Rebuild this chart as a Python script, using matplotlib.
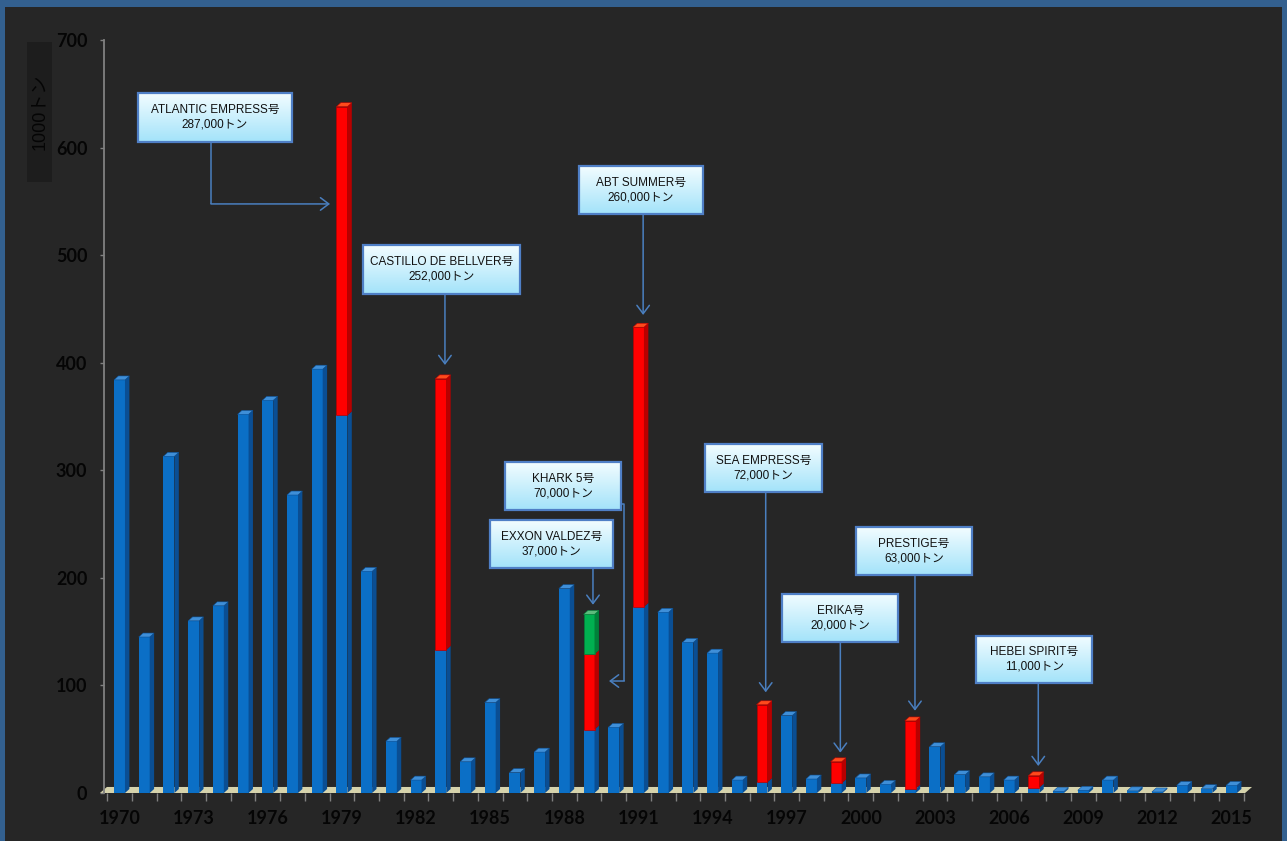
import numpy as np
import matplotlib
matplotlib.use("Agg")
import matplotlib.pyplot as plt
from matplotlib.patches import Polygon, Rectangle

# ---- data (thousand tonnes spilled per year) ----
years = list(range(1970, 2016))
other_spills = [384, 145, 313, 160, 174, 352, 365, 277, 394, 351,
                206, 48, 12, 133, 29, 84, 19, 38, 190, 59,
                61, 173, 168, 140, 130, 12, 10, 72, 13, 9,
                14, 8, 4, 43, 17, 15, 12, 5, 1.5, 2.5,
                12, 2, 1, 7, 4, 7]
# major incidents stacked on top of the yearly base
major_spills = {1979: 287, 1983: 252, 1989: 70, 1991: 260,
                1996: 72, 1999: 20, 2002: 63, 2007: 11}
second_spills = {1989: 37}

x_labels = [str(y) for y in range(1970, 2016, 3)]
y_ticks = list(range(0, 701, 100))
y_title = "1000トン"

incident_names = ["ATLANTIC EMPRESS号", "CASTILLO DE BELLVER号", "ABT SUMMER号",
                  "KHARK 5号", "EXXON VALDEZ号", "SEA EMPRESS号", "ERIKA号",
                  "PRESTIGE号", "HEBEI SPIRIT号"]
incident_tonnes = ["287,000トン", "252,000トン", "260,000トン", "70,000トン",
                   "37,000トン", "72,000トン", "20,000トン", "63,000トン",
                   "11,000トン"]

# ---- styling ----
FRAME = "#33608f"
BG = "#262626"
BLUE = ("#0b6fc6", "#0a4e93", "#3f8fd8")
RED = ("#ff0000", "#b80000", "#ff4a1c")
GREEN = ("#00b050", "#00813a", "#5dbb7d")
FLOOR = "#d6d3ac"
AXIS_GRAY = "#808080"
ARROW = "#4a7fbf"
TEXT_DARK = "#050505"
JP = ["Liberation Sans", "Noto Sans CJK JP"]

W = 0.445        # front face width (years)
DX, DY = 0.178, 3.7  # 3D depth offset

fig = plt.figure(figsize=(12.87, 8.41), dpi=100, facecolor=FRAME)
fig.patches.append(Rectangle((5 / 1287, 0), 1277 / 1287, 834 / 841,
                             transform=fig.transFigure, facecolor=BG,
                             edgecolor="none", zorder=-10))
fig.patches.append(Rectangle((27 / 1287, 1 - 182 / 841), 25 / 1287, 140 / 841,
                             transform=fig.transFigure, facecolor="#1d1d1d",
                             edgecolor="none", zorder=-5))

ax = fig.add_axes([104 / 1287, 1 - 793 / 841, 1151 / 1287, 753 / 841])
ax.set_zorder(5)
ax.set_facecolor("none")
ax.set_xlim(1969.373, 2015.95)
ax.set_ylim(0, 700)

# floor plate
floor = Polygon([(1969.21, 0), (2015.55, 0), (2015.83, 5.6), (1969.49, 5.6)],
                closed=True, facecolor=FLOOR, edgecolor="none", zorder=1,
                clip_on=False)
ax.add_patch(floor)


def segment(x, bottom, height, cols, top_face):
    front, side, top = cols
    ax.bar(x, height, bottom=bottom, width=W, color=front,
           edgecolor=side if front != BLUE[0] else "none", linewidth=0.5,
           zorder=3)
    r = x + W / 2
    ax.add_patch(Polygon([(r, bottom), (r + DX, bottom + DY),
                          (r + DX, bottom + height + DY), (r, bottom + height)],
                         closed=True, facecolor=side, edgecolor="none", zorder=3))
    if top_face:
        t = bottom + height
        ax.add_patch(Polygon([(x - W / 2, t), (x - W / 2 + DX, t + DY),
                              (r + DX, t + DY), (r, t)],
                             closed=True, facecolor=top,
                             edgecolor=side, linewidth=0.4, zorder=3))


for yr, base in zip(years, other_spills):
    red = major_spills.get(yr, 0)
    green = second_spills.get(yr, 0)
    segment(yr, 0, base, BLUE, top_face=(red == 0))
    if red:
        segment(yr, base, red, RED, top_face=(green == 0))
    if green:
        segment(yr, base + red, green, GREEN, top_face=True)

# axes decoration
for s in ["top", "right", "bottom"]:
    ax.spines[s].set_visible(False)
ax.spines["left"].set_color(AXIS_GRAY)
ax.spines["left"].set_linewidth(1.3)

ax.set_yticks(y_ticks)
ax.set_yticklabels([str(v) for v in y_ticks])
ax.tick_params(axis="y", direction="out", length=3, width=1, color=AXIS_GRAY,
               pad=9, labelsize=13, labelcolor=TEXT_DARK)

ax.set_xticks([int(l) for l in x_labels])
ax.set_xticklabels(x_labels)
ax.set_xticks([y - 0.5 for y in years] + [years[-1] + 0.5], minor=True)
ax.tick_params(axis="x", which="major", length=0, pad=12, labelsize=13,
               labelcolor=TEXT_DARK)
ax.tick_params(axis="x", which="minor", length=6, width=1, color=AXIS_GRAY,
               direction="out")
for lab in ax.get_xticklabels() + ax.get_yticklabels():
    lab.set_fontfamily("Lato")
    lab.set_fontweight("bold")

# y axis title in its own dark box
fig.text(40 / 1287, 1 - 112 / 841, y_title, rotation=90, ha="center",
         va="center", fontsize=13, color=TEXT_DARK, family=JP, zorder=6)

# ---- incident call-outs ----
# (box centre x, box centre y, width, height, arrow path ending at the tip)
callouts = [
    (1973.86, 628.0, 6.23, 45.5, [(1973.70, 605.2), (1973.70, 547.6), (1978.52, 547.6)]),
    (1983.03, 486.7, 6.35, 45.5, [(1983.17, 463.9), (1983.17, 397.9)]),
    (1991.10, 560.6, 5.02, 44.6, [(1991.19, 538.3), (1991.19, 444.4)]),
    (1987.94, 285.4, 4.68, 44.6, [(1990.28, 268.7), (1990.43, 268.7), (1990.43, 104.1), (1989.81, 104.1)]),
    (1987.48, 231.5, 4.98, 44.6, [(1989.16, 209.2), (1989.16, 175.0)]),
    (1996.05, 302.2, 4.72, 44.3, [(1996.15, 280.1), (1996.15, 93.6)]),
    (1999.16, 162.5, 4.72, 44.9, [(1999.17, 140.0), (1999.17, 37.5)]),
    (2002.15, 224.9, 4.72, 44.3, [(2002.19, 202.7), (2002.19, 76.5)]),
    (2007.01, 124.1, 4.72, 44.2, [(2007.18, 102.0), (2007.18, 25.1)]),
]

grad = np.linspace(0, 1, 64)[:, None, None]
c_top = np.array([0.95, 0.99, 1.0])
c_bot = np.array([0.64, 0.89, 0.98])
grad_img = c_top * (1 - grad) + c_bot * grad

for (cx, cy, bw, bh, path), name, tonnes in zip(callouts, incident_names,
                                                 incident_tonnes):
    x0, x1 = cx - bw / 2, cx + bw / 2
    y0, y1 = cy - bh / 2, cy + bh / 2
    ax.imshow(grad_img, extent=(x0, x1, y0, y1), aspect="auto", zorder=5,
              interpolation="bilinear")
    ax.add_patch(Rectangle((x0, y0), bw, bh, fill=False, edgecolor="#4f7fc6",
                           linewidth=1.6, zorder=6))
    ax.text(cx, cy, f"{name}\n{tonnes}", ha="center", va="center",
            fontsize=8.5, color="#111111", family=JP, linespacing=1.25,
            zorder=7)
    xs = [p[0] for p in path[:-1]]
    ys = [p[1] for p in path[:-1]]
    if len(path) > 2:
        ax.plot(xs, ys, color=ARROW, linewidth=1.1, zorder=4,
                solid_capstyle="butt")
    ax.annotate("", xy=path[-1], xytext=path[-2],
                arrowprops=dict(arrowstyle="->,head_length=0.6,head_width=0.45",
                                color=ARROW, lw=1.1, shrinkA=0, shrinkB=0,
                                mutation_scale=10),
                zorder=4)

ax.set_xlim(1969.373, 2015.95)
ax.set_ylim(0, 700)

fig.savefig("out.png", dpi=100, facecolor=FRAME)
